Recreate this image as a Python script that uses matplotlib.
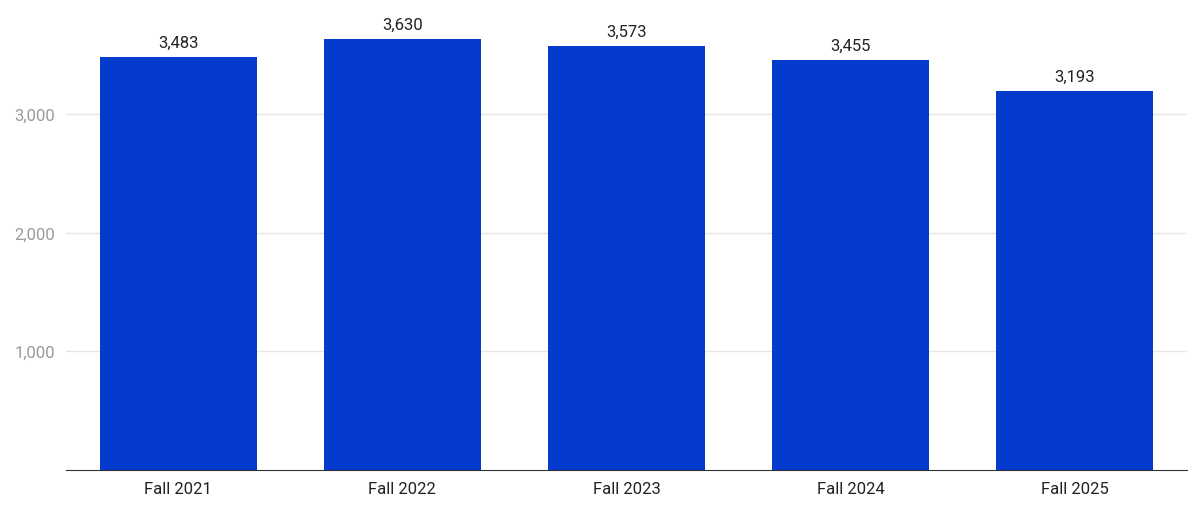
import matplotlib
matplotlib.use("Agg")
import matplotlib.pyplot as plt

categories = ["Fall 2021", "Fall 2022", "Fall 2023", "Fall 2024", "Fall 2025"]
values = [3483, 3630, 3573, 3455, 3193]
yticks = [1000, 2000, 3000]
ytick_labels = ["1,000", "2,000", "3,000"]

plt.rcParams['font.family'] = ['Roboto', 'DejaVu Sans']
fig = plt.figure(figsize=(11.99, 5.10), dpi=100)
ax = fig.add_axes([0.055, 0.0765, 0.935, 0.9075])
x = range(len(categories))
ax.bar(x, values, width=0.70, color="#053BCC", zorder=3)
for i, v in zip(x, values):
    ax.text(i, v + 60, f"{v:,}", ha="center", va="bottom", fontsize=12, color="#222222")
ax.set_xlim(-0.5, 4.5)
ax.set_ylim(0, 3900)
ax.set_yticks(yticks)
ax.set_yticklabels(ytick_labels, fontsize=12, color="#9a9a9a")
ax.set_xticks(list(x))
ax.set_xticklabels(categories, fontsize=12, color="#222222")
ax.grid(axis="y", color="#e6e6e6", linewidth=1, zorder=0)
for s in ["top", "right", "left"]:
    ax.spines[s].set_visible(False)
ax.spines["bottom"].set_color("#333333")
ax.tick_params(axis="both", length=0, pad=8)
fig.savefig("out.png", dpi=100)
